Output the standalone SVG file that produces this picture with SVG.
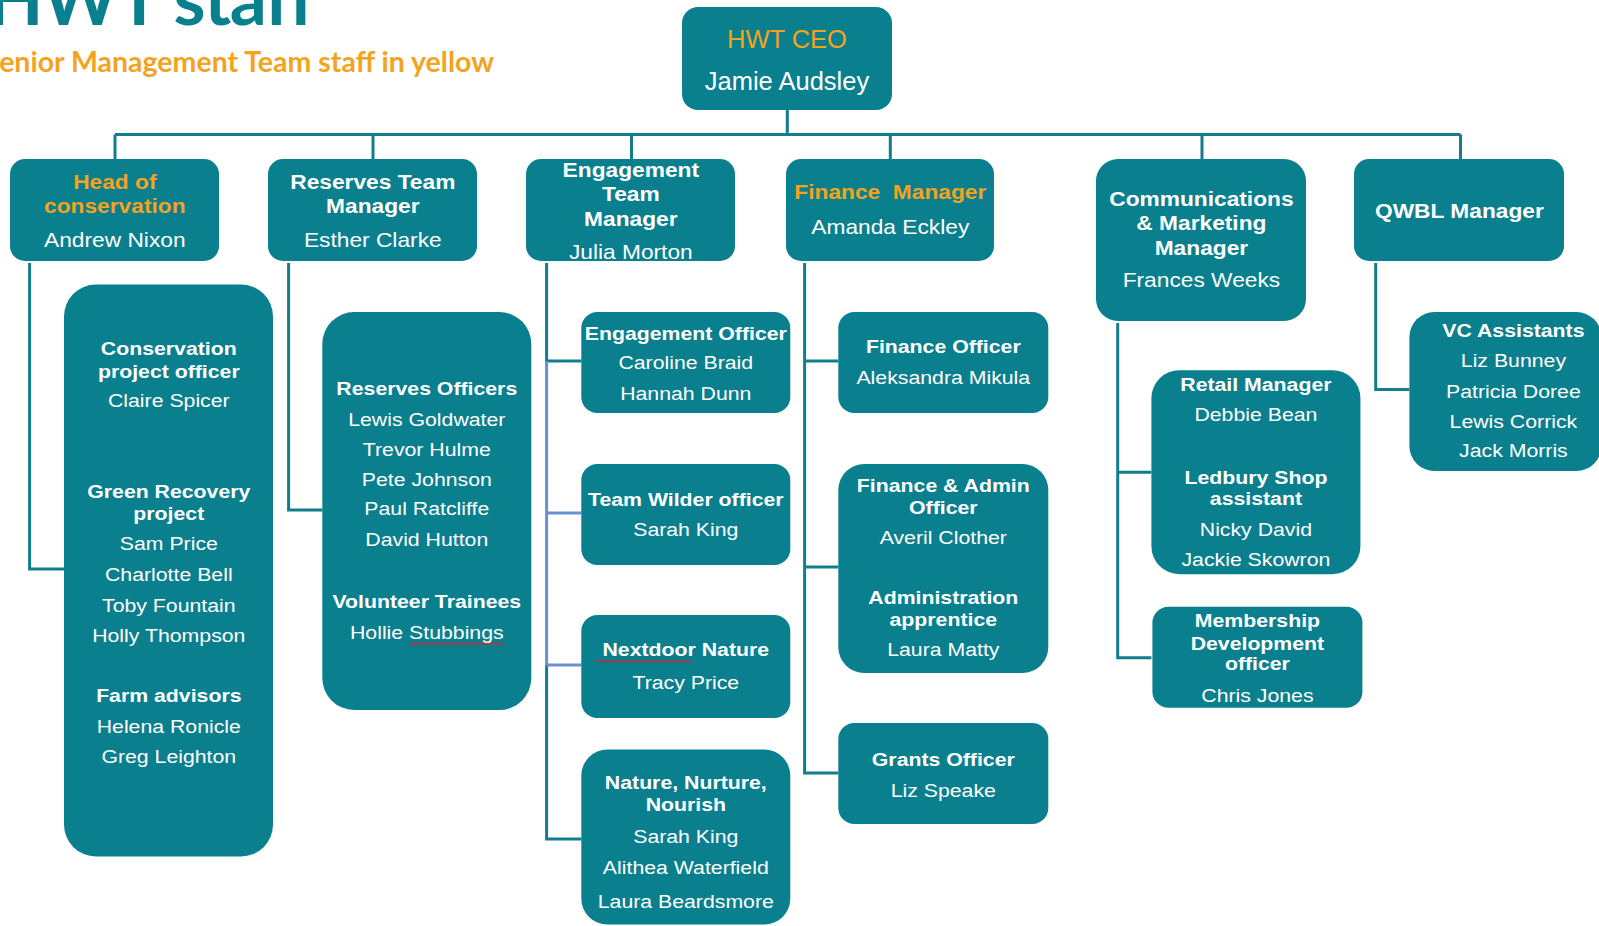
<svg xmlns="http://www.w3.org/2000/svg" width="1599" height="926" viewBox="0 0 1599 926">
  <style>
    .box { fill: #0a7f8e; }
    .t { font-family: "Liberation Sans", Arial, sans-serif; text-anchor: middle; }
    .b { font-weight: bold; }
    .w { fill: #ffffff; }
    .o { fill: #f4a31e; }
    .m { font-size: 20.3px; }
    .s { font-size: 19px; }
    .link { stroke: #127d8c; stroke-width: 3; fill: none; }
    .alt { stroke: #6a8fd2; }
    .head { font-family: Lato, "Liberation Sans", sans-serif; font-weight: bold; text-anchor: end; }
  </style>
  <defs>
    <pattern id="squiggle" width="4" height="3" patternUnits="userSpaceOnUse">
      <path d="M0,2.5 L1,0.5 L2,0.5 L3,2.5 L4,2.5" fill="none" stroke="#d2232a" stroke-width="1"/>
    </pattern>
  </defs>
  <rect width="1599" height="926" fill="#ffffff"/>

  <!-- heading -->
  <g id="heading">
    <text class="head" x="314" y="25" font-size="73" letter-spacing="-1.5" fill="#0a7f8e">HWT staff</text>
    <text class="head" x="494" y="72" font-size="28.5" fill="#f4a31e">Senior Management Team staff in yellow</text>
  </g>

  <!-- reporting lines -->
  <g id="connectors" class="link">
    <path d="M787.3,110 V134.6 M115,134.6 H1460.5 M115,134.6 V159 M373,134.6 V159 M631.5,134.6 V159 M890.3,134.6 V159 M1202,134.6 V159 M1460.5,134.6 V159"/>
    <path d="M29.6,263 V569 H64.2"/>
    <path d="M288.6,263 V510 H322.3"/>
    <path d="M546.6,263 V361 H581.3 M546.6,665 V839 H581.3"/>
    <path class="alt" d="M546.6,361 V665 M546.6,513 H581.3 M546.6,665 H581.3"/>
    <path d="M804.6,263 V773 H838.3 M804.6,361 H838.3 M804.6,567 H838.3"/>
    <path d="M1117.7,323 V657.8 H1151.4 M1117.7,472.2 H1151.4"/>
    <path d="M1375.7,263 V389.6 H1409.4"/>
  </g>

  <!-- chief executive -->
  <g id="ceo">
    <rect class="box" x="682" y="7" width="210" height="103" rx="16"/>
    <text class="t o" x="787" y="47.5" font-size="25.5">HWT CEO</text>
    <text class="t w" x="787" y="89.5" font-size="25.5">Jamie Audsley</text>
  </g>

  <!-- managers -->
  <g id="head-of-conservation">
    <rect class="box" x="10" y="159" width="209" height="102" rx="15"/>
    <g transform="translate(114.8 0) scale(1.12 1)">
      <text class="t b o m" y="189.3">Head of</text>
      <text class="t b o m" y="213.5">conservation</text>
      <text class="t w m" y="246.8">Andrew Nixon</text>
    </g>
  </g>
  <g id="reserves-manager">
    <rect class="box" x="268" y="159" width="209" height="102" rx="15"/>
    <g transform="translate(372.8 0) scale(1.12 1)">
      <text class="t b w m" y="189.3">Reserves Team</text>
      <text class="t b w m" y="213.5">Manager</text>
      <text class="t w m" y="246.8">Esther Clarke</text>
    </g>
  </g>
  <g id="engagement-manager">
    <rect class="box" x="526" y="159" width="209" height="102" rx="15"/>
    <g transform="translate(630.8 0) scale(1.12 1)">
      <text class="t b w m" y="177">Engagement</text>
      <text class="t b w m" y="201.5">Team</text>
      <text class="t b w m" y="226">Manager</text>
      <text class="t w m" y="259.5">Julia Morton</text>
    </g>
  </g>
  <g id="finance-manager">
    <rect class="box" x="786" y="159" width="208" height="102" rx="15"/>
    <g transform="translate(890.3 0) scale(1.12 1)">
      <text class="t b o m" y="199.5">Finance&#160; Manager</text>
      <text class="t w m" y="234.2">Amanda Eckley</text>
    </g>
  </g>
  <g id="comms-manager">
    <rect class="box" x="1096" y="159" width="210" height="162" rx="22"/>
    <g transform="translate(1201.4 0) scale(1.12 1)">
      <text class="t b w m" y="205.6">Communications</text>
      <text class="t b w m" y="230.1">&amp; Marketing</text>
      <text class="t b w m" y="254.6">Manager</text>
      <text class="t w m" y="287.2">Frances Weeks</text>
    </g>
  </g>
  <g id="qwbl-manager">
    <rect class="box" x="1354" y="159" width="210" height="102" rx="15"/>
    <g transform="translate(1459.4 0) scale(1.12 1)">
      <text class="t b w m" y="217.9">QWBL Manager</text>
    </g>
  </g>

  <!-- conservation team -->
  <g id="conservation-team">
    <rect class="box" x="64" y="284.5" width="209" height="572" rx="32"/>
    <g transform="translate(168.8 0) scale(1.12 1)">
      <text class="t b w s" y="355.3">Conservation</text>
      <text class="t b w s" y="377.7">project officer</text>
      <text class="t w s" y="407.3">Claire Spicer</text>
      <text class="t b w s" y="498">Green Recovery</text>
      <text class="t b w s" y="520.5">project</text>
      <text class="t w s" y="550">Sam Price</text>
      <text class="t w s" y="580.6">Charlotte Bell</text>
      <text class="t w s" y="612.2">Toby Fountain</text>
      <text class="t w s" y="641.8">Holly Thompson</text>
      <text class="t b w s" y="702">Farm advisors</text>
      <text class="t w s" y="732.6">Helena Ronicle</text>
      <text class="t w s" y="763.2">Greg Leighton</text>
    </g>
  </g>

  <!-- reserves team -->
  <g id="reserves-team">
    <rect class="box" x="322.3" y="312" width="209" height="398" rx="32"/>
    <g transform="translate(426.8 0) scale(1.12 1)">
      <text class="t b w s" y="395">Reserves Officers</text>
      <text class="t w s" y="425.6">Lewis Goldwater</text>
      <text class="t w s" y="456.2">Trevor Hulme</text>
      <text class="t w s" y="485.8">Pete Johnson</text>
      <text class="t w s" y="515.4">Paul Ratcliffe</text>
      <text class="t w s" y="546">David Hutton</text>
      <text class="t b w s" y="608.2">Volunteer Trainees</text>
      <text class="t w s" y="638.8">Hollie Stubbings</text>
    </g>
    <rect x="410" y="643" width="94" height="3" fill="url(#squiggle)"/>
  </g>

  <!-- engagement team -->
  <g id="engagement-officer">
    <rect class="box" x="581.3" y="312" width="209" height="101" rx="16"/>
    <g transform="translate(685.8 0) scale(1.12 1)">
      <text class="t b w s" y="340">Engagement Officer</text>
      <text class="t w s" y="369.5">Caroline Braid</text>
      <text class="t w s" y="400.1">Hannah Dunn</text>
    </g>
  </g>
  <g id="team-wilder">
    <rect class="box" x="581.3" y="464" width="209" height="101" rx="16"/>
    <g transform="translate(685.8 0) scale(1.12 1)">
      <text class="t b w s" y="506.2">Team Wilder officer</text>
      <text class="t w s" y="535.8">Sarah King</text>
    </g>
  </g>
  <g id="nextdoor-nature">
    <rect class="box" x="581.3" y="615" width="209" height="103" rx="16"/>
    <g transform="translate(685.8 0) scale(1.12 1)">
      <text class="t b w s" y="656.1">Nextdoor Nature</text>
      <text class="t w s" y="688.7">Tracy Price</text>
    </g>
    <rect x="595" y="660" width="96" height="3" fill="url(#squiggle)"/>
  </g>
  <g id="nature-nurture-nourish">
    <rect class="box" x="581.3" y="749.6" width="209" height="175" rx="26"/>
    <g transform="translate(685.8 0) scale(1.12 1)">
      <text class="t b w s" y="788.7">Nature, Nurture,</text>
      <text class="t b w s" y="811.1">Nourish</text>
      <text class="t w s" y="842.7">Sarah King</text>
      <text class="t w s" y="874.3">Alithea Waterfield</text>
      <text class="t w s" y="908">Laura Beardsmore</text>
    </g>
  </g>

  <!-- finance team -->
  <g id="finance-officer">
    <rect class="box" x="838.3" y="312" width="210" height="101" rx="16"/>
    <g transform="translate(943.3 0) scale(1.12 1)">
      <text class="t b w s" y="353.2">Finance Officer</text>
      <text class="t w s" y="383.8">Aleksandra Mikula</text>
    </g>
  </g>
  <g id="finance-admin">
    <rect class="box" x="838.3" y="464" width="210" height="209" rx="26"/>
    <g transform="translate(943.3 0) scale(1.12 1)">
      <text class="t b w s" y="491.9">Finance &amp; Admin</text>
      <text class="t b w s" y="514.3">Officer</text>
      <text class="t w s" y="543.9">Averil Clother</text>
      <text class="t b w s" y="604.1">Administration</text>
      <text class="t b w s" y="626.5">apprentice</text>
      <text class="t w s" y="656.1">Laura Matty</text>
    </g>
  </g>
  <g id="grants-officer">
    <rect class="box" x="838.3" y="723" width="210" height="101" rx="16"/>
    <g transform="translate(943.3 0) scale(1.12 1)">
      <text class="t b w s" y="766.2">Grants Officer</text>
      <text class="t w s" y="796.8">Liz Speake</text>
    </g>
  </g>

  <!-- communications team -->
  <g id="retail">
    <rect class="box" x="1151.4" y="370.2" width="209" height="204" rx="28"/>
    <g transform="translate(1255.9 0) scale(1.12 1)">
      <text class="t b w s" y="391">Retail Manager</text>
      <text class="t w s" y="421.5">Debbie Bean</text>
      <text class="t b w s" y="483.7">Ledbury Shop</text>
      <text class="t b w s" y="505.2">assistant</text>
      <text class="t w s" y="535.8">Nicky David</text>
      <text class="t w s" y="566.4">Jackie Skowron</text>
    </g>
  </g>
  <g id="membership">
    <rect class="box" x="1152.4" y="606.8" width="210" height="101" rx="16"/>
    <g transform="translate(1257.4 0) scale(1.12 1)">
      <text class="t b w s" y="627.5">Membership</text>
      <text class="t b w s" y="650">Development</text>
      <text class="t b w s" y="670.4">officer</text>
      <text class="t w s" y="702">Chris Jones</text>
    </g>
  </g>

  <!-- visitor centre -->
  <g id="vc-assistants">
    <rect class="box" x="1409.4" y="312" width="192" height="159" rx="25"/>
    <g transform="translate(1513.4 0) scale(1.12 1)">
      <text class="t b w s" y="336.9">VC Assistants</text>
      <text class="t w s" y="367.5">Liz Bunney</text>
      <text class="t w s" y="398.1">Patricia Doree</text>
      <text class="t w s" y="427.7">Lewis Corrick</text>
      <text class="t w s" y="457.2">Jack Morris</text>
    </g>
  </g>
</svg>
